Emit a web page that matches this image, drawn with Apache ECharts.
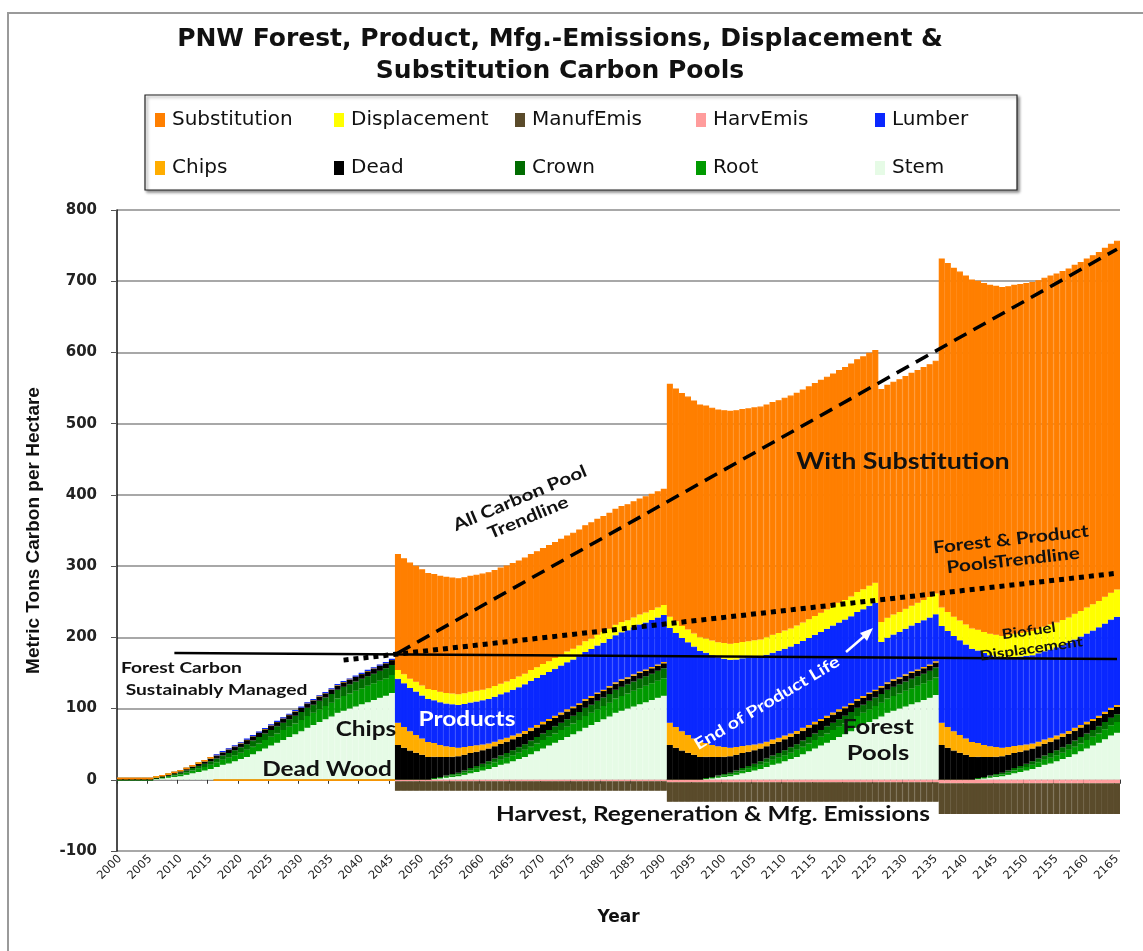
<!DOCTYPE html>
<html>
<head>
<meta charset="utf-8">
<title>PNW carbon pools</title>
<script src="https://cdn.jsdelivr.net/npm/echarts/dist/echarts.min.js"></script>
<style>
  html, body { margin: 0; padding: 0; background: #fff; }
  #main { width: 1143px; height: 951px; }
</style>
</head>
<body>
<div id="main"></div>
<script>
// years 2000 .. 2165, one bar per year
var years = [];
for (var y = 2000; y <= 2165; y++) years.push(String(y));

// stacked pools (t C / ha)
// rotation blocks: 2000-2045 | 2046-2090 | 2091-2135 | 2136-2165
var stem = [
  0,0,0,0,0,0,1,2,3,4,5,7,9,11,13,15,18,21,23,26,29,32,36,40,44,48,52,56,60,64,68,73,77,81,85,89,94,97,100,103,106,109,112,115,118,122,
  0,0,0,0,0,0,1,2,3,4,5,7,9,11,13,15,18,21,23,26,29,32,36,40,44,48,52,56,60,64,68,73,77,81,85,89,94,97,100,103,106,109,112,115,118,
  0,0,0,0,0,0,1,2,3,4,5,7,9,11,13,15,18,21,23,26,29,32,36,40,44,48,52,56,60,64,68,73,77,81,85,89,94,97,100,103,106,109,112,115,119,
  0,0,0,0,0,0,1,2,3,4,5,7,9,11,13,15,18,21,23,26,29,32,36,40,44,48,52,57,62,66
];
var root = [
  0,0,0,0,0,0,1,1,1.5,2,2.5,3,4,4.5,5,6,6.5,7,8,8.5,9,10,10.5,11,12,12.5,13,14,14.5,15,16,16.5,17,18,18.5,19,20,20.5,21,22,22.5,23,23.5,24,24.5,25,
  0,0,0,0,0,0,1,1,1.5,2,2.5,3,4,4.5,5,6,6.5,7,8,8.5,9,10,10.5,11,12,12.5,13,14,14.5,15,16,16.5,17,18,18.5,19,20,20.5,21,22,22.5,23,23.5,24,24.5,
  0,0,0,0,0,0,1,1,1.5,2,2.5,3,4,4.5,5,6,6.5,7,8,8.5,9,10,10.5,11,12,12.5,13,14,14.5,15,16,16.5,17,18,18.5,19,20,20.5,21,22,22.5,23,23.5,24,24.5,
  0,0,0,0,0,0,1,1,1.5,2,2.5,3,4,4.5,5,6,6.5,7,8,8.5,9,10,10.5,11,12,12.5,13,14,14.5,15
];
var crown = [
  0,0,0,0,0,0,0.5,1,1.5,2,2.5,3,3.5,4,4.5,5,5.5,6,6.5,7,7.5,8,8.5,9,9,9.5,10,10,10.5,11,11,11.5,11.5,12,12,12.5,12.5,13,13,13,13.5,13.5,13.5,14,14,14,
  0,0,0,0,0,0,0.5,1,1.5,2,2.5,3,3.5,4,4.5,5,5.5,6,6.5,7,7.5,8,8.5,9,9,9.5,10,10,10.5,11,11,11.5,11.5,12,12,12.5,12.5,13,13,13,13.5,13.5,13.5,14,14,
  0,0,0,0,0,0,0.5,1,1.5,2,2.5,3,3.5,4,4.5,5,5.5,6,6.5,7,7.5,8,8.5,9,9,9.5,10,10,10.5,11,11,11.5,11.5,12,12,12.5,12.5,13,13,13,13.5,13.5,13.5,14,14,
  0,0,0,0,0,0,0.5,1,1.5,2,2.5,3,3.5,4,4.5,5,5.5,6,6.5,7,7.5,8,8.5,9,9,9.5,10,10,10.5,11
];
var dead = [
  0.5,0.5,0.5,0.5,0.5,0.5,0.5,1,1,1.5,2,2,2.5,3,3.5,4,4,4.5,5,5,5.5,6,6,6,6,6,6,6,6,6,6,6,6,6,6,6,6,6.5,6.5,6.5,6.5,7,7,7,7,7,
  49,45,41,38,35,32,30,28,26,24.5,23,22,21,20,19,18,17,16.5,16,15.5,15,14.5,14,13.5,13,12.5,12,11.5,11,10.5,10,10,9.5,9.5,9,9,8.5,8.5,8,8,8,7.5,7.5,7,7,
  49,45,41,38,35,32,30,28,26,24.5,23,22,21,20,19,18,17,16.5,16,15.5,15,14.5,14,13.5,13,12.5,12,11.5,11,10.5,10,10,9.5,9.5,9,9,8.5,8.5,8,8,8,7.5,7.5,7,7,
  49,45,41,38,35,32,30,28,26,24.5,23,22,21,20,19,18,17,16.5,16,15.5,15,14.5,14,13.5,13,12.5,12,11.5,11,10.5
];
var chips = [
  1.5,1.5,1.5,1.5,1.5,1.5,1,1,1,1,1,1,1,1,1,1,1,1,1,1,1,1,1,1,1,1,1,1,1,1,1,1,1,1,1,1,1,1,1,1,1,1,1,1,1,1,
  31,29,27,25,23,21,19,17,15,13.5,12,11,10,9,8,7,6.5,6,5.5,5,4.5,4,4,3.5,3.5,3,3,3,3,2.5,2.5,2.5,2.5,2,2,2,2,2,2,2,2,2,2,2,2,
  31,29,27,25,23,21,19,17,15,13.5,12,11,10,9,8,7,6.5,6,5.5,5,4.5,4,4,3.5,3.5,3,3,3,3,2.5,2.5,2.5,2.5,2,2,2,2,2,2,2,2,2,2,2,2,
  31,29,27,25,23,21,19,17,15,13.5,12,11,10,9,8,7,6.5,6,5.5,5,4.5,4,4,3.5,3.5,3,3,3,3,2.5
];
var lumber = [
  0,0,0,0,0,0,0,0,0,0,0,0,0,0,0,0,0,0,0,0,0,0,0,0,0,0,0,0,0,0,0,0,0,0,0,0,0,0,0,0,0,0,0,0,0,0,
  62,61.5,61,61,60.5,60.5,60,60,60,60,60,60.5,61,61.5,62,62.5,63,63.5,64,64.5,65,65.5,66,66,66,66,66,66,66,66,66,66,66,66,66,66,66,66,66,66,66,66,66,66,66,
  133,132,131,130,129,128,127,126,125,124,123.5,123,123,122.5,122.5,122,122,122,122,122,122,122,122,122,122,122,122,122,122,122,122,122,122,122,122,62,62.5,63,63.5,64,64.5,65,65.5,66,66,
  136,135,134,133,132,131,130,129,128,127,126,125,125,124.5,124.5,124,124,124,124,124,124,124,124,124,124,124,124,124,124,124
];
var harvEmis = [
  0,0,0,0,0,0,0,0,0,0,0,0,0,0,0,0,-0.6,-0.6,-0.6,-0.6,-0.6,-0.6,-0.6,-0.6,-0.6,-0.6,-0.6,-0.6,-0.6,-0.6,-0.6,-0.6,-0.6,-0.6,-0.6,-0.6,-0.6,-0.6,-0.6,-0.6,-0.6,-0.6,-0.6,-0.6,-0.6,-0.6,
  -2,-2,-2,-2,-2,-2,-2,-2,-2,-2,-2,-2,-2,-2,-2,-2,-2,-2,-2,-2,-2,-2,-2,-2,-2,-2,-2,-2,-2,-2,-2,-2,-2,-2,-2,-2,-2,-2,-2,-2,-2,-2,-2,-2,-2,
  -3.5,-3.5,-3.5,-3.5,-3.5,-3.5,-3.5,-3.5,-3.5,-3.5,-3.5,-3.5,-3.5,-3.5,-3.5,-3.5,-3.5,-3.5,-3.5,-3.5,-3.5,-3.5,-3.5,-3.5,-3.5,-3.5,-3.5,-3.5,-3.5,-3.5,-3.5,-3.5,-3.5,-3.5,-3.5,-3.5,-3.5,-3.5,-3.5,-3.5,-3.5,-3.5,-3.5,-3.5,-3.5,
  -5,-5,-5,-5,-5,-5,-5,-5,-5,-5,-5,-5,-5,-5,-5,-5,-5,-5,-5,-5,-5,-5,-5,-5,-5,-5,-5,-5,-5,-5
];
var manufEmis = [
  0,0,0,0,0,0,0,0,0,0,0,0,0,0,0,0,0,0,0,0,0,0,0,0,0,0,0,0,0,0,0,0,0,0,0,0,0,0,0,0,0,0,0,0,0,0,
  -13.5,-13.5,-13.5,-13.5,-13.5,-13.5,-13.5,-13.5,-13.5,-13.5,-13.5,-13.5,-13.5,-13.5,-13.5,-13.5,-13.5,-13.5,-13.5,-13.5,-13.5,-13.5,-13.5,-13.5,-13.5,-13.5,-13.5,-13.5,-13.5,-13.5,-13.5,-13.5,-13.5,-13.5,-13.5,-13.5,-13.5,-13.5,-13.5,-13.5,-13.5,-13.5,-13.5,-13.5,-13.5,
  -27.5,-27.5,-27.5,-27.5,-27.5,-27.5,-27.5,-27.5,-27.5,-27.5,-27.5,-27.5,-27.5,-27.5,-27.5,-27.5,-27.5,-27.5,-27.5,-27.5,-27.5,-27.5,-27.5,-27.5,-27.5,-27.5,-27.5,-27.5,-27.5,-27.5,-27.5,-27.5,-27.5,-27.5,-27.5,-27.5,-27.5,-27.5,-27.5,-27.5,-27.5,-27.5,-27.5,-27.5,-27.5,
  -43,-43,-43,-43,-43,-43,-43,-43,-43,-43,-43,-43,-43,-43,-43,-43,-43,-43,-43,-43,-43,-43,-43,-43,-43,-43,-43,-43,-43,-43
];
var displacement = [
  0,0,0,0,0,0,0,0,0,0,0,0,0,0,0,0,0,0,0,0,0,0,0,0,0,0,0,0,0,0,0,0,0,0,0,0,0,0,0,0,0,0,0,0,0,0,
  12,12.5,13,13.5,14,14,14.5,14.5,15,15,15,15,15,15,15,15,15,15,15,15,15,15,15,15,15,15,15,15,15,15,15,15,15,15,15,14.5,14.5,14.5,14,14,14,14,14,14,14,
  16,16.5,17,18,18.5,19,20,20.5,21,22,22.5,23,23,23.5,24,24,24.5,25,25,25.5,25.5,26,26,26.5,26.5,27,27,27,27.5,27.5,28,28,28,28,28,28,28,28,28,28,28,28.5,28.5,28.5,29,
  26,26.5,27,27.5,28,28.5,29,29.5,30,30.5,31,32,32.5,33,33.5,34,34,34.5,35,35,35.5,35.5,36,36,36.5,37,37,37.5,37.5,38
];
var substitution = [
  0,0,0,0,0,0,0,0,0,0,0,0,0,0,0,0,0,0,0,0,0,0,0,0,0,0,0,0,0,0,0,0,0,0,0,0,0,0,0,0,0,0,0,0,0,0,
  163,163,163,163,163,163,163,163,163,163,163,163,163,163,163,163,163,163,163,163,163,163,163,163,163,163,163,163,163,163,163,163,163,163,163,163,163,163,163,163,163,163,163,163,163,
  327,327,327,327,327,327,327,327,327,327,327,327,327,327,327,327,327,327,327,327,327,327,327,327,327,327,327,327,327,327,327,327,327,327,327,327,327,327,327,327,327,327,327,327,327,
  490,490,490,490,490,490,490,490,490,490,490,490,490,490,490,490,490,490,490,490,490,490,490,490,490,490,490,490,490,490
];

// straight trend lines: [year, value] end points
var allPoolTrend = [['2046', 178], ['2165', 745]];
var forestProductTrend = [['2037', 168], ['2165', 290]];
var sustainedForest = [['2009', 178], ['2165', 169.5]];

var FONT = '"Liberation Sans", Arial, sans-serif';
var WIDE = '"DejaVu Sans", Verdana, sans-serif';
var NOTE = 'Lato, "Open Sans", sans-serif';

function bar(name, data, color) {
  return {
    name: name, type: 'bar', stack: 'pools', data: data,
    barCategoryGap: '0%', barGap: '0%',
    // same-colour border closes the hairline seams between the yearly bars
    itemStyle: { color: color, borderColor: color, borderWidth: 1.2 },
    emphasis: { disabled: true },
    xAxisIndex: 0
  };
}
function trend(name, data, dash, width) {
  return {
    name: name, type: 'line', data: data, symbol: 'none', z: 5,
    lineStyle: { color: '#000', width: width, type: dash, cap: 'butt' },
    emphasis: { disabled: true }, silent: true, xAxisIndex: 0
  };
}

var series = [
  bar('Stem', stem, '#e6fbe6'),
  bar('Root', root, '#009a00'),
  bar('Crown', crown, '#006c00'),
  bar('Dead', dead, '#000000'),
  bar('Chips', chips, '#ffad00'),
  bar('Lumber', lumber, '#0a28ff'),
  bar('HarvEmis', harvEmis, '#ff9c9c'),
  bar('ManufEmis', manufEmis, '#5a4b2b'),
  bar('Displacement', displacement, '#ffff00'),
  bar('Substitution', substitution, '#ff7f00'),
  trend('allPool', allPoolTrend, [14, 8], 3.5),
  trend('forestProduct', forestProductTrend, [5, 5], 5),
  trend('sustained', sustainedForest, 'solid', 2.5)
];

// legend laid out as the 2 x 5 grid of the original
var legendSpots = [
  ['Substitution', 155, 110], ['Displacement', 334, 110], ['ManufEmis', 515, 110], ['HarvEmis', 696, 110], ['Lumber', 875, 110],
  ['Chips', 155, 158], ['Dead', 334, 158], ['Crown', 515, 158], ['Root', 696, 158], ['Stem', 875, 158]
];
var legends = legendSpots.map(function (s) {
  return {
    data: [s[0]], left: s[1], top: s[2], padding: 0, selectedMode: false,
    itemWidth: 8, itemHeight: 12, icon: 'rect',
    textStyle: { fontSize: 20, fontFamily: WIDE, color: '#111', padding: [0, 0, 0, 3] }
  };
});

// annotation text, widened like the original lettering
function note(text, x, y, size, color, rot) {
  return {
    type: 'text', x: x, y: y, rotation: rot || 0, scaleX: 1.22, z: 100,
    style: {
      text: text, fill: color || '#111',
      font: 'bold ' + size + 'px ' + NOTE,
      textAlign: 'center', textVerticalAlign: 'middle',
      align: 'center', verticalAlign: 'middle',
      lineHeight: Math.round(size * 1.25)
    }
  };
}

var chart = echarts.init(document.getElementById('main'));
chart.setOption({
  animation: false,
  title: {
    text: 'PNW Forest, Product, Mfg.-Emissions, Displacement &\nSubstitution Carbon Pools',
    left: 555, top: 18, textAlign: 'center',
    textStyle: { fontSize: 25, fontWeight: 'bold', fontFamily: WIDE, color: '#111', lineHeight: 32 }
  },
  legend: legends,
  grid: { left: 117, right: 23, top: 210, bottom: 100, containLabel: false },
  xAxis: [{
    type: 'category', data: years, position: 'bottom',
    name: 'Year', nameLocation: 'middle', nameGap: 58,
    nameTextStyle: { fontSize: 17, fontWeight: 'bold', fontFamily: WIDE, color: '#111' },
    axisLine: { show: false, onZero: false },
    axisTick: { show: false },
    axisLabel: { interval: 4, rotate: 45, fontSize: 11.5, fontFamily: WIDE, color: '#222', margin: 6 },
    splitLine: { show: false }
  }, {
    type: 'category', data: years, position: 'bottom',
    axisLine: { show: true, onZero: true, lineStyle: { color: '#8a8a8a', width: 1.5 } },
    axisTick: { show: true, interval: 4, length: 4, lineStyle: { color: '#333' } },
    axisLabel: { show: false },
    splitLine: { show: false }
  }],
  yAxis: {
    type: 'value', min: -100, max: 800, interval: 100,
    name: 'Metric Tons Carbon per Hectare', nameLocation: 'middle', nameGap: 74,
    nameTextStyle: { fontSize: 19, fontWeight: 'bold', fontFamily: FONT, color: '#111' },
    axisLine: { show: true, lineStyle: { color: '#111', width: 1.5 } },
    axisTick: { show: true, length: 6, lineStyle: { color: '#555' } },
    axisLabel: { fontSize: 15, fontWeight: 'bold', fontFamily: WIDE, color: '#222', margin: 20 },
    splitLine: { show: true, lineStyle: { color: '#a8a8a8', width: 2 } }
  },
  series: series,
  graphic: [
    { type: 'rect', z: 0, silent: true, shape: { x: 8, y: 13, width: 1200, height: 1000 },
      style: { fill: 'none', stroke: '#9a9a9a', lineWidth: 2 } },
    { type: 'rect', z: 1, silent: true, shape: { x: 145, y: 95, width: 872, height: 95 },
      style: { fill: '#fff', stroke: '#222', lineWidth: 1.2, shadowBlur: 3, shadowOffsetX: 2, shadowOffsetY: 2, shadowColor: 'rgba(0,0,0,0.45)' } },
    note('All Carbon Pool\nTrendline', 524, 508, 17, '#111', 0.40),
    note('With Substitution', 903, 462, 22),
    note('Forest & Product\nPoolsTrendline', 1012, 550, 17, '#111', 0.11),
    note('Biofuel\nDisplacement', 1030, 640, 14, '#111', 0.14),
    note('End of Product Life', 767, 703, 16, '#fff', 0.54),
    { type: 'line', z: 100, silent: true, shape: { x1: 846, y1: 652, x2: 868, y2: 633 },
      style: { stroke: '#fff', lineWidth: 2.5 } },
    { type: 'polygon', z: 100, silent: true, shape: { points: [[873, 628], [860, 633], [867, 641]] },
      style: { fill: '#fff' } },
    { type: 'text', x: 121, y: 679, scaleX: 1.2, z: 100,
      style: { text: 'Forest Carbon\n Sustainably Managed', font: 'bold 16px ' + NOTE, fill: '#111',
               textAlign: 'left', textVerticalAlign: 'middle', align: 'left', verticalAlign: 'middle', lineHeight: 22 } },
    note('Chips', 366, 730, 20),
    note('Dead Wood', 327, 770, 20),
    note('Products', 467, 720, 20, '#fff'),
    note('Forest\nPools', 878, 740, 21),
    note('Harvest, Regeneration & Mfg. Emissions', 713, 815, 20)
  ]
});
</script>
</body>
</html>
